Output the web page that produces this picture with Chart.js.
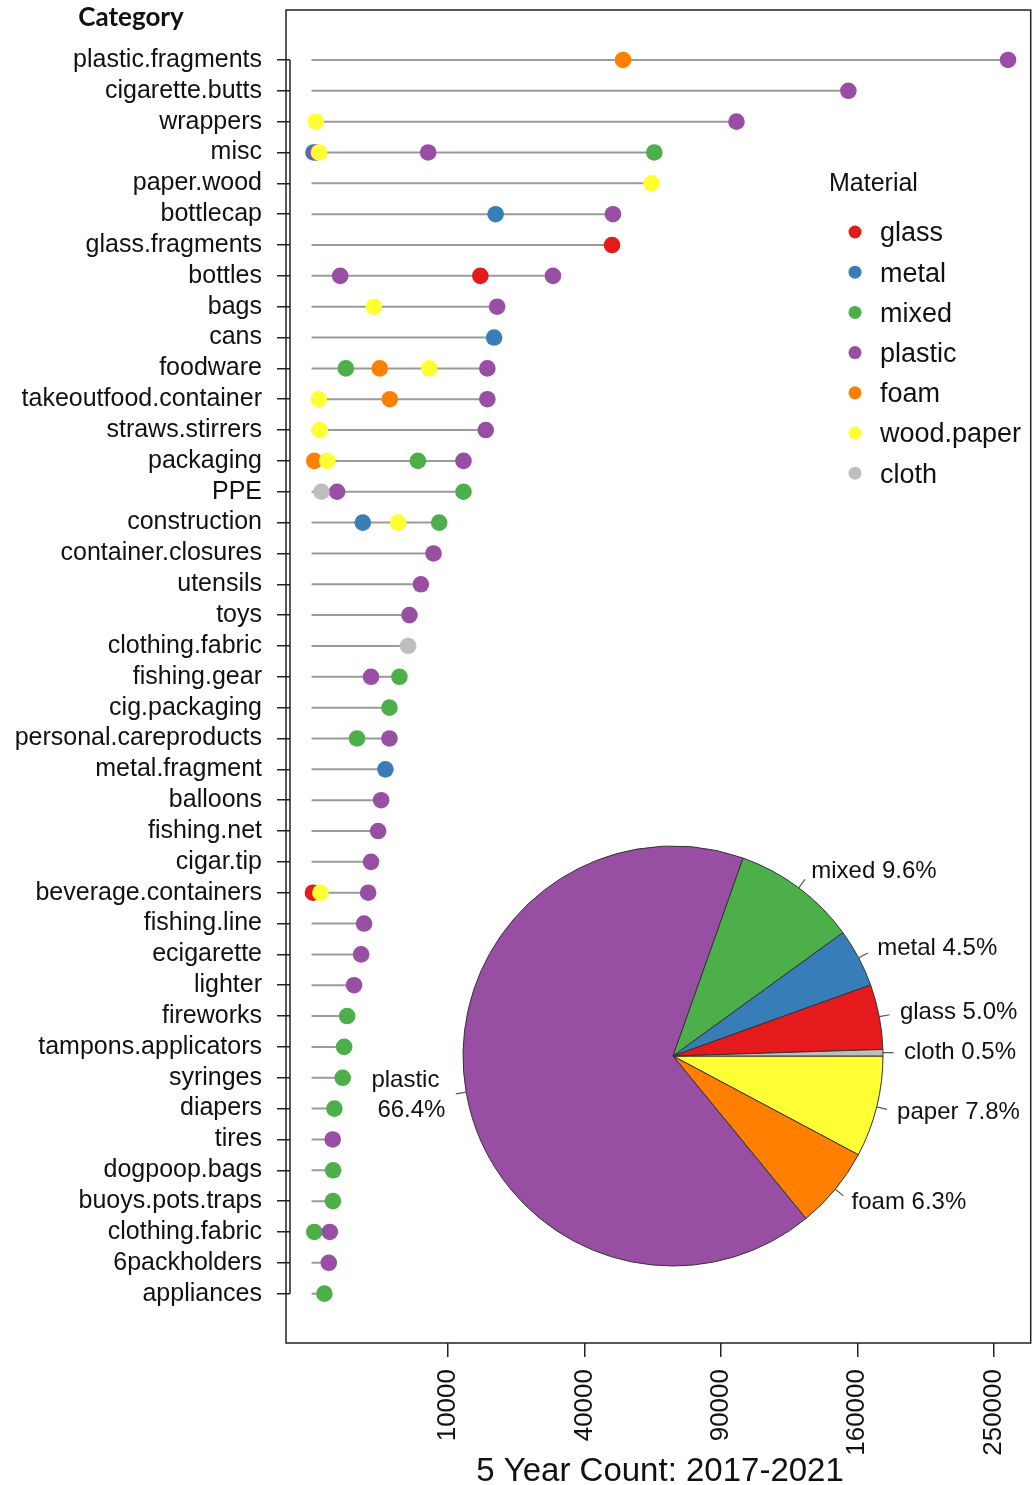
<!DOCTYPE html>
<html>
<head>
<meta charset="utf-8">
<title>Debris count by category and material</title>
<script src="https://cdn.jsdelivr.net/npm/chart.js@4.4.1/dist/chart.umd.min.js"></script>
<style>
  body { margin: 0; background: #fff; overflow: hidden; }
  #wrap { position: relative; width: 1033px; height: 1485px; overflow: hidden; }
  #wrap canvas { position: absolute; left: 0; top: 0; }
  #pieChart { pointer-events: none; }
</style>
</head>
<body>
<div id="wrap">
  <canvas id="dotChart" width="1039" height="1485"></canvas>
  <canvas id="pieChart" width="1033" height="1485"></canvas>
</div>
<script>
// categories, top to bottom
const categories = [
  'plastic.fragments', 'cigarette.butts', 'wrappers', 'misc', 'paper.wood',
  'bottlecap', 'glass.fragments', 'bottles', 'bags', 'cans',
  'foodware', 'takeoutfood.container', 'straws.stirrers', 'packaging', 'PPE',
  'construction', 'container.closures', 'utensils', 'toys', 'clothing.fabric',
  'fishing.gear', 'cig.packaging', 'personal.careproducts', 'metal.fragment', 'balloons',
  'fishing.net', 'cigar.tip', 'beverage.containers', 'fishing.line', 'ecigarette',
  'lighter', 'fireworks', 'tampons.applicators', 'syringes', 'diapers',
  'tires', 'dogpoop.bags', 'buoys.pots.traps', 'clothing.fabric', '6packholders',
  'appliances'
];

// 5 year counts per material, one slot per category (null = none, [a, b] = two entries)
const N = null;
const glass = [
  N, N, N, N, N, N, 48500, 15300, N, N,
  N, N, N, N, N, N, N, N, N, N,
  N, N, N, N, N, N, N, 1, N, N,
  N, N, N, N, N, N, N, N, N, N,
  N
];
const metal = [
  N, N, N, 2, N, 18200, N, N, N, 17900,
  N, N, N, N, N, 1410, N, N, N, N,
  N, N, N, 2930, N, N, N, N, N, N,
  N, N, N, N, N, N, N, N, N, N,
  N
];
const mixed = [
  N, N, N, 63100, N, N, N, N, N, N,
  630, N, N, 6070, 12400, 8750, N, N, N, N,
  4150, 3260, 1110, N, N, N, N, N, N, N,
  N, 680, 570, 520, 280, N, 250, 245, 4, N,
  88
];
const plastic = [
  260600, 154800, 97000, [12, 7300], N, 48800, N, [440, 31300], 18500, N,
  16600, 16600, 16300, 12400, 350, N, 7990, 6420, 5150, N,
  1900, N, 3260, N, 2600, 2380, 1900, 1720, 1480, 1320,
  970, N, N, N, N, 240, N, N, 178, 159,
  N
];
const foam = [
  52100, N, N, N, N, N, N, N, N, N,
  2500, 3290, N, 4, N, N, N, N, N, N,
  N, N, N, N, N, N, N, N, N, N,
  N, N, N, N, N, N, N, N, N, N,
  N
];
const woodPaper = [
  N, N, 10, 30, 62100, N, N, N, 2080, N,
  7430, 28, 36, 134, N, 4030, N, N, N, N,
  N, N, N, N, N, N, N, 42, N, N,
  N, N, N, N, N, N, N, N, N, N,
  N
];
const cloth = [
  N, N, N, N, N, N, N, N, N, N,
  N, N, N, N, 52, N, N, N, N, 5010,
  N, N, N, N, N, N, N, N, N, N,
  N, N, N, N, N, N, N, N, N, N,
  N
];

const materials = ['glass', 'metal', 'mixed', 'plastic', 'foam', 'wood.paper', 'cloth'];
const materialValues = [glass, metal, mixed, plastic, foam, woodPaper, cloth];
const materialColors = ['#E41A1C', '#377EB8', '#4DAF4A', '#984EA3', '#FF7F00', '#FFFF33', '#BEBEBE'];

// x axis is a square-root scale
const xTicks = [10000, 40000, 90000, 160000, 250000];

// pie: share of total by material (R order, counter-clockwise from 3 o'clock)
const pieLabels = ['cloth', 'glass', 'metal', 'mixed', 'plastic', 'foam', 'paper'];
const piePercent = [0.5, 5.0, 4.5, 9.6, 66.4, 6.3, 7.8];
const pieColors = ['#BEBEBE', '#E41A1C', '#377EB8', '#4DAF4A', '#984EA3', '#FF7F00', '#FFFF33'];

const FONT = 'Liberation Sans, Arial, sans-serif';

// helpers
function valuesOf(v) {
  if (v === null) return [];
  return Array.isArray(v) ? v : [v];
}

function noPadding(s) {
  s.paddingTop = 0;
  s.paddingBottom = 0;
  s.paddingLeft = 0;
  s.paddingRight = 0;
}

// stem lines from 0 to the row maximum
const lineSets = categories.map((c, i) => {
  let rowMax = 0;
  materialValues.forEach(arr => valuesOf(arr[i]).forEach(v => { rowMax = Math.max(rowMax, v); }));
  return {
    type: 'line',
    data: [{ x: 0, y: i }, { x: Math.sqrt(rowMax), y: i }],
    borderColor: '#9a9a9a',
    borderWidth: 2,
    pointRadius: 0,
    order: 20
  };
});

const pointSets = materials.map((m, k) => {
  const pts = [];
  materialValues[k].forEach((v, i) => {
    valuesOf(v).forEach(val => pts.push({ x: Math.sqrt(val), y: i }));
  });
  return {
    type: 'scatter',
    label: m,
    data: pts,
    backgroundColor: materialColors[k],
    borderWidth: 0,
    pointRadius: 8.3,
    order: 10 - k
  };
});

const decorations = {
  id: 'decorations',
  beforeDatasetsDraw(chart) {
    const { ctx, chartArea: a, scales: { y } } = chart;
    ctx.save();
    ctx.strokeStyle = '#222';
    ctx.lineWidth = 1.5;
    ctx.strokeRect(a.left - 4, a.top, a.right - a.left + 4, a.bottom - a.top);
    ctx.beginPath();
    ctx.moveTo(a.left, y.getPixelForValue(0));
    ctx.lineTo(a.left, y.getPixelForValue(categories.length - 1));
    ctx.stroke();
    ctx.restore();
  },
  afterDraw(chart) {
    const ctx = chart.ctx;
    ctx.save();
    ctx.fillStyle = '#111';
    // y header
    ctx.font = 'bold 26px Lato, sans-serif';
    ctx.textAlign = 'center';
    ctx.textBaseline = 'middle';
    ctx.fillText('Category', 131, 18);
    // x title
    ctx.font = '33px ' + FONT;
    ctx.textBaseline = 'alphabetic';
    ctx.fillText('5 Year Count: 2017-2021', 660, 1481);
    // legend
    ctx.textAlign = 'left';
    ctx.textBaseline = 'middle';
    ctx.font = '25px ' + FONT;
    ctx.fillText('Material', 829, 184);
    ctx.font = '27px ' + FONT;
    materials.forEach((m, k) => {
      const yy = 234 + k * 40.2;
      ctx.fillStyle = materialColors[k];
      ctx.beginPath();
      ctx.arc(855, yy - 2, 6.5, 0, Math.PI * 2);
      ctx.fill();
      ctx.fillStyle = '#111';
      ctx.fillText(m, 880, yy);
    });
    ctx.restore();
  }
};

new Chart(document.getElementById('dotChart'), {
  data: { datasets: [...lineSets, ...pointSets] },
  options: {
    responsive: false,
    animation: false,
    layout: { padding: { top: 10, right: 3, left: 0, bottom: 0 } },
    plugins: { legend: { display: false }, tooltip: { enabled: false } },
    scales: {
      x: {
        type: 'linear',
        min: -15.8,
        max: 527.1,
        afterBuildTicks: s => { s.ticks = xTicks.map(t => ({ value: Math.sqrt(t) })); },
        afterFit: s => { s.height = 142; noPadding(s); },
        grid: { drawOnChartArea: false, drawTicks: true, tickLength: 14, color: '#222', lineWidth: 1.5 },
        border: { display: false },
        ticks: {
          minRotation: 90, maxRotation: 90, padding: 12, color: '#111',
          font: { family: FONT, size: 26 },
          callback: (v, idx) => String(xTicks[idx])
        }
      },
      y: {
        type: 'linear',
        reverse: true,
        min: -1.62,
        max: 41.6,
        afterBuildTicks: s => { s.ticks = categories.map((c, i) => ({ value: i })); },
        afterFit: s => { s.width = 290; noPadding(s); },
        grid: { drawOnChartArea: false, drawTicks: true, tickLength: 13, color: '#222', lineWidth: 1.5 },
        border: { display: false },
        ticks: {
          autoSkip: false, padding: 15, color: '#111',
          font: { family: FONT, size: 25 },
          callback: (v) => categories[v]
        }
      }
    }
  },
  plugins: [decorations]
});

// pie labels: short leader line and text outside the rim
const pieLabelPlugin = {
  id: 'pieLabels',
  afterDraw(chart) {
    const ctx = chart.ctx;
    const meta = chart.getDatasetMeta(0);
    const vals = chart.data.datasets[0].data;
    ctx.save();
    ctx.font = '24px ' + FONT;
    ctx.fillStyle = '#111';
    ctx.strokeStyle = '#555';
    ctx.lineWidth = 1.2;
    ctx.textBaseline = 'middle';
    meta.data.forEach((arc, k) => {
      const p = arc.getProps(['x', 'y', 'startAngle', 'endAngle', 'outerRadius'], true);
      const mid = (p.startAngle + p.endAngle) / 2;
      const c = Math.cos(mid), s = Math.sin(mid);
      const r = p.outerRadius;
      ctx.beginPath();
      ctx.moveTo(p.x + r * c, p.y + r * s);
      ctx.lineTo(p.x + 1.05 * r * c, p.y + 1.05 * r * s);
      ctx.stroke();
      const tx = p.x + 1.1 * r * c, ty = p.y + 1.1 * r * s;
      const pct = vals[k].toFixed(1) + '%';
      const name = chart.data.labels[k];
      if (c < 0) {
        ctx.textAlign = 'right';
        ctx.fillText(name, tx - 6, ty - 15);
        ctx.fillText(pct, tx, ty + 15);
      } else {
        ctx.textAlign = 'left';
        ctx.fillText(name + ' ' + pct, tx, ty);
      }
    });
    ctx.restore();
  }
};

new Chart(document.getElementById('pieChart'), {
  type: 'pie',
  data: {
    labels: pieLabels.slice().reverse(),
    datasets: [{
      data: piePercent.slice().reverse(),
      backgroundColor: pieColors.slice().reverse(),
      borderColor: '#333',
      borderWidth: 1
    }]
  },
  options: {
    responsive: false,
    animation: false,
    rotation: 90,
    radius: 210,
    layout: { padding: { left: 313, top: 627 } },
    plugins: { legend: { display: false }, tooltip: { enabled: false } }
  },
  plugins: [pieLabelPlugin]
});
</script>
</body>
</html>
